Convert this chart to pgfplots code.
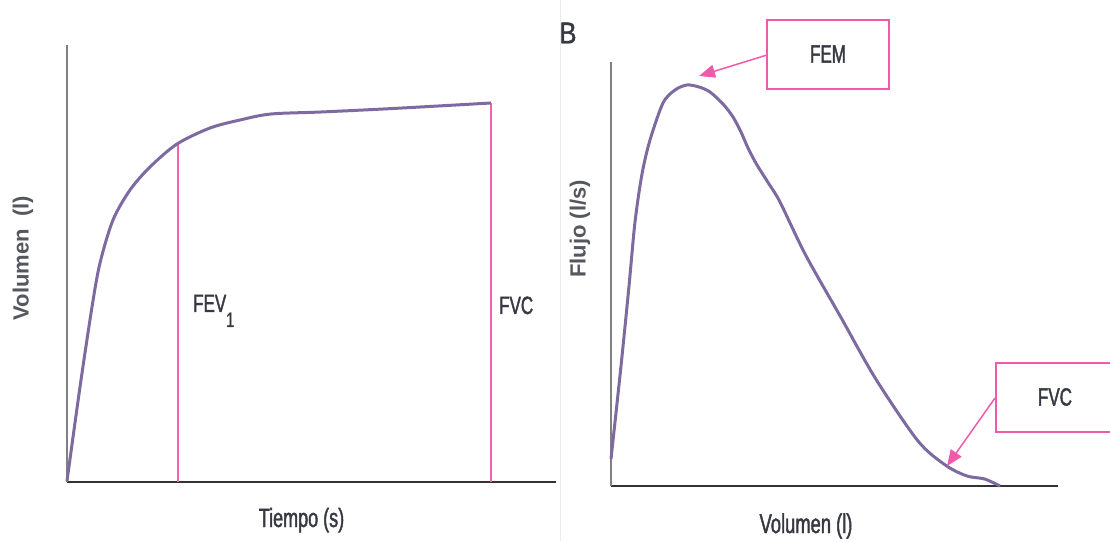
\documentclass[border=0pt]{standalone}
\usepackage{pgfplots}
\pgfplotsset{compat=1.18}
\usetikzlibrary{arrows.meta}
\usepackage{fontspec}
\setmainfont{Liberation Sans}
\newfontfamily\narrowfont[FakeStretch=0.68,FakeBold=1.5]{Liberation Sans}
\newfontfamily\bfont[FakeStretch=0.85,FakeBold=1.2]{Liberation Sans}
\definecolor{curve}{RGB}{125,106,160}
\definecolor{pinkline}{RGB}{240,100,175}
\definecolor{pinkbox}{RGB}{240,90,170}
\definecolor{txt}{RGB}{55,57,66}
\begin{document}
\begin{tikzpicture}[x=1pt,y=1pt]
\useasboundingbox (0,0) rectangle (1110,541);
\draw[black!8,line width=1pt] (560,0) -- (560,541);
% Left panel
\begin{axis}[
  at={(67pt,59pt)}, anchor=south west,
  scale only axis, width=489pt, height=437pt,
  xmin=0, xmax=489, ymin=0, ymax=437,
  axis x line*=bottom, axis y line*=left,
  x axis line style={black!80, line width=2pt, -},
  y axis line style={black!50, line width=1.5pt, -},
  xtick=\empty, ytick=\empty, clip=false,
]
\addplot[pinkline, line width=2pt] coordinates {(111,0) (111,339)};
\addplot[pinkline, line width=2pt] coordinates {(424,0) (424,379)};
\addplot[curve, line width=3pt, smooth, tension=0.5] coordinates {
(0,1) (13,95) (25,175) (33,219) (46,262) (63,292) (83,315) (110,338)
(143,354) (173,362) (204,368) (254,370) (326,373.5) (424,379)};
\node[anchor=base west, font=\narrowfont\fontsize{25}{25}\selectfont, text=txt, inner sep=0pt] at (axis cs:126,170) {FEV\raisebox{-15pt}{\fontsize{21}{21}\selectfont 1}};
\node[anchor=base west, font=\narrowfont\fontsize{25}{25}\selectfont, text=txt, inner sep=0pt] at (axis cs:432,168) {FVC};
\node[anchor=base, font=\narrowfont\fontsize{26.5}{26.5}\selectfont, text=txt, inner sep=0pt] at (axis cs:234.5,-45) {Tiempo (s)};
\node[rotate=90, font=\bfseries\fontsize{22}{22}\selectfont, text=txt!85] at (axis cs:-44,224) {Volumen\ \ (l)};
\end{axis}
% Right panel
\begin{axis}[
  at={(611pt,55pt)}, anchor=south west,
  scale only axis, width=447pt, height=424pt,
  xmin=0, xmax=447, ymin=0, ymax=424,
  axis x line*=bottom, axis y line*=left,
  x axis line style={black!80, line width=2pt, -},
  y axis line style={black!50, line width=1.5pt, -},
  xtick=\empty, ytick=\empty, clip=false,
]
\addplot[curve, line width=3pt, smooth, tension=0.5] coordinates {
(0,27) (10,120) (18,200) (24,264) (31,312) (39,346) (52,383) (64,396)
(76,401) (88,399) (99,394) (112,382) (122,369) (130,354) (137,338) (146,321)
(158,302) (169,284) (194.6,231) (229.7,169) (264.8,107)
(307,45) (335,20.5) (356,10) (373.6,7) (389,0)};
\draw[pinkbox, line width=2pt] (axis cs:156,397) rectangle (axis cs:278,466);
\node[font=\narrowfont\fontsize{25}{25}\selectfont, text=txt] at (axis cs:217,432) {FEM};
\draw[pinkbox, line width=1.5pt, -{Triangle[length=16pt,width=13pt]}] (axis cs:156,431) -- (axis cs:88,410);
\draw[pinkbox, line width=2pt] (axis cs:385,54) rectangle (axis cs:505,123);
\node[font=\narrowfont\fontsize{25}{25}\selectfont, text=txt] at (axis cs:444,89) {FVC};
\draw[pinkbox, line width=1.5pt, -{Triangle[length=16pt,width=13pt]}] (axis cs:384,88) -- (axis cs:336,20);
\node[anchor=base, font=\narrowfont\fontsize{27}{27}\selectfont, text=txt, inner sep=0pt] at (axis cs:195,-47) {Volumen (l)};
\node[rotate=90, font=\bfseries\fontsize{22}{22}\selectfont, text=txt!85] at (axis cs:-31,257) {Flujo (l/s)};
\node[font=\bfont\fontsize{30}{30}\selectfont, text=txt] at (axis cs:-43,453) {B};
\end{axis}
\end{tikzpicture}
\end{document}
